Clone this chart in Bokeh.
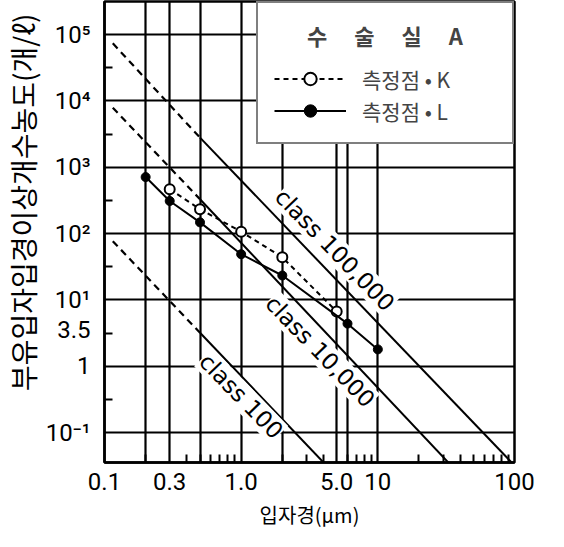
from bokeh.plotting import figure
from bokeh.models import Range1d, FixedTicker, Legend, LegendItem, Label, Title
from bokeh.embed import file_html
from bokeh.resources import INLINE

# ---- data ----
k_size = [0.3, 0.5, 1.0, 2.0, 5.0]
k_conc = [467, 234, 107, 44, 6.7]
l_size = [0.2, 0.3, 0.5, 1.0, 2.0, 6.0, 10.0]
l_conc = [713, 311, 148, 49, 23.4, 4.4, 1.8]

class_names = ["class 100,000", "class 10,000", "class 100"]
class_dash_x = [[0.115, 0.5], [0.115, 0.5], [0.115, 0.5]]
class_dash_y = [[74000, 2800], [7900, 330], [77, 3.2]]
class_solid_x = [[0.5, 100], [0.5, 40], [0.5, 5]]
class_solid_y = [[2800, 0.032], [330, 0.023], [3.2, 0.022]]
class_label_x = [4.85, 3.79, 1.0]
class_label_y = [56.8, 1.68, 0.355]

x_ticks = [0.1, 0.3, 1.0, 5.0, 10.0, 100.0]
x_tick_labels = ["0.1", "0.3", "1.0", "5.0", "10", "100"]
x_minor = [0.2, 0.4, 0.5, 0.6, 0.7, 0.8, 0.9, 2, 3, 4, 6, 7, 8, 9,
           20, 30, 40, 50, 60, 70, 80, 90]
x_grid = [0.2, 0.3, 0.5, 1.0, 2.0, 5.0, 6.0, 10.0]

y_ticks = [0.1, 1.0, 3.5, 10.0, 100.0, 1000.0, 10000.0, 100000.0]
y_tick_labels = ["10⁻¹", "1", "3.5", "10¹", "10²", "10³", "10⁴", "10⁵"]
y_minor = [0.316, 3.16, 31.6, 316, 3160, 31600]
y_grid = [0.1, 1.0, 10.0, 100.0, 1000.0, 10000.0, 100000.0]

legend_title = "\u3000\u2002수\u3000 술\u3000 실\u3000 A"
k_label = "측정점 • K"
l_label = "측정점 • L"
x_title = "입자경(μm)"
y_title = "부유입자입경이상개수농도(개/ℓ)"

tick_font = "Roboto"
kr_font = "Noto Sans CJK KR"

p = figure(width=548, height=531, x_axis_type="log", y_axis_type="log",
           x_range=Range1d(0.1, 100), y_range=Range1d(10 ** -1.45, 10 ** 5.5),
           output_backend="svg", toolbar_location=None,
           min_border_left=93, min_border_right=34, min_border_top=1,
           min_border_bottom=0)
p.background_fill_color = "white"
p.border_fill_color = "white"
p.outline_line_color = "black"
p.outline_line_width = 2.5

# grid
p.xgrid.ticker = FixedTicker(ticks=x_grid)
p.ygrid.ticker = FixedTicker(ticks=y_grid)
for g in (p.xgrid, p.ygrid):
    g.grid_line_color = "black"
    g.grid_line_width = 2.2
    g.grid_line_alpha = 1.0

# axes
p.xaxis.ticker = FixedTicker(ticks=x_ticks, minor_ticks=x_minor)
p.xaxis.major_label_overrides = {t: s for t, s in zip(x_ticks, x_tick_labels)}
p.yaxis.ticker = FixedTicker(ticks=y_ticks, minor_ticks=y_minor)
p.yaxis.major_label_overrides = {t: s for t, s in zip(y_ticks, y_tick_labels)}
for ax in (p.xaxis, p.yaxis):
    ax.axis_line_color = "black"
    ax.axis_line_width = 2.5
    ax.major_tick_in = 0
    ax.major_tick_out = 0
    ax.minor_tick_in = 8
    ax.minor_tick_out = 0
    ax.minor_tick_line_color = "black"
    ax.minor_tick_line_width = 2
    ax.major_label_text_font = tick_font
    ax.major_label_text_font_size = "24px"
    ax.major_label_text_color = "black"
p.xaxis.major_label_standoff = 10
p.yaxis.major_label_standoff = 14

p.xaxis.axis_label = x_title
p.xaxis.axis_label_text_font = kr_font
p.xaxis.axis_label_text_font_size = "20px"
p.xaxis.axis_label_text_font_style = "normal"
p.xaxis.axis_label_text_color = "black"
p.xaxis.axis_label_standoff = 7

p.add_layout(Title(text=y_title, align="right", offset=12,
                   text_font=kr_font, text_font_size="28px",
                   text_font_style="normal", text_color="black",
                   standoff=0), "left")

# class lines
p.multi_line(xs=class_dash_x, ys=class_dash_y, line_color="black",
             line_width=2.2, line_dash="7 5")
p.multi_line(xs=class_solid_x, ys=class_solid_y, line_color="black",
             line_width=2)

# measurement series
k_line = p.line(k_size, k_conc, line_color="black", line_width=2, line_dash="5 4")
k_pts = p.scatter(k_size, k_conc, marker="circle", size=10, fill_color="white",
                  line_color="black", line_width=2)
l_line = p.line(l_size, l_conc, line_color="black", line_width=2)
l_pts = p.scatter(l_size, l_conc, marker="circle", size=9, fill_color="black",
                  line_color="black")

# class labels
for name, lx, ly in zip(class_names, class_label_x, class_label_y):
    p.add_layout(Label(x=lx, y=ly, text=name, angle=-0.80,
                       text_align="center", text_baseline="middle",
                       text_font="DejaVu Sans", text_font_size="23px",
                       text_color="black", background_fill_color="white"))

legend = Legend(items=[LegendItem(label=k_label, renderers=[k_line, k_pts]),
                       LegendItem(label=l_label, renderers=[l_line, l_pts])],
                location="top_right", margin=0, padding=16, spacing=1,
                label_height=31, glyph_height=31, glyph_width=72,
                label_standoff=16, label_width=134,
                title=legend_title, title_standoff=12,
                title_text_font=kr_font, title_text_font_size="22px",
                title_text_font_style="bold",
                label_text_font=kr_font, label_text_font_size="21px",
                border_line_color="black", border_line_width=2,
                background_fill_color="white", background_fill_alpha=1.0)
p.add_layout(legend)

open("out.html", "w").write(file_html(p, INLINE))
